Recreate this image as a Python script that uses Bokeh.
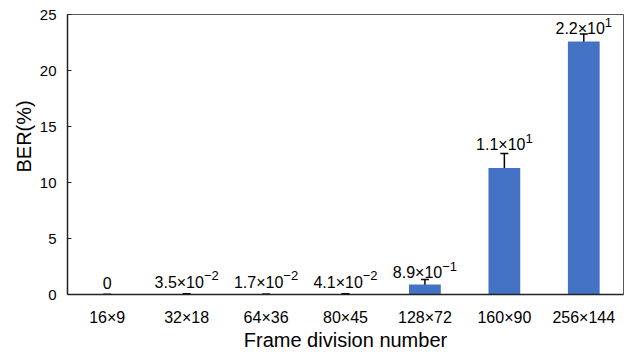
from bokeh.plotting import figure
from bokeh.models import ColumnDataSource, Whisker, Title, FactorRange, FixedTicker
from bokeh.core.properties import value
from bokeh.embed import file_html
from bokeh.resources import INLINE

categories = ["16×9", "32×18", "64×36", "80×45", "128×72", "160×90", "256×144"]
ber = [0.0, 0.035, 0.017, 0.041, 0.89, 11.3, 22.6]
err = [0.0, 0.03, 0.01, 0.03, 0.45, 1.3, 0.65]
label_base = ["0", "3.5×10", "1.7×10", "4.1×10", "8.9×10", "1.1×10", "2.2×10"]
label_exp = ["", "−2", "−2", "−2", "−1", "1", "1"]
y_ticks = [0, 5, 10, 15, 20, 25]

FONT = "Liberation Sans"
BASE_PX = 16
EXP_PX = 13
W = {"0": 556, "1": 556, "2": 556, "3": 556, "4": 556, "5": 556, "6": 556,
     "7": 556, "8": 556, "9": 556, ".": 278, "×": 584, "−": 584}

WIDTH, HEIGHT = 630, 353
B_LEFT, B_RIGHT, B_TOP, B_BOTTOM = 67, 7, 14, 58
Y_MAX = 25
PX_PER_UNIT = (HEIGHT - B_TOP - B_BOTTOM) / Y_MAX

def width(s, px):
    return sum(W.get(c, 556) for c in s) / 1000 * px

upper = [v + e for v, e in zip(ber, err)]
lower = [v - e for v, e in zip(ber, err)]
base_off = [(width(b, BASE_PX) - width(e, EXP_PX)) / 2 for b, e in zip(label_base, label_exp)]
lift = [-max(12, 1.4 * e * PX_PER_UNIT + 2.5) for e in err]
lift_exp = [l - 6.5 for l in lift]

src = ColumnDataSource(dict(cat=categories, ber=ber, upper=upper, lower=lower,
                            base=label_base, exp=label_exp, off=base_off,
                            lift=lift, lift_exp=lift_exp))

p = figure(x_range=FactorRange(*categories, range_padding=0), y_range=(0, Y_MAX),
           width=WIDTH, height=HEIGHT, output_backend="svg", toolbar_location=None,
           min_border_left=B_LEFT, min_border_right=B_RIGHT,
           min_border_top=B_TOP, min_border_bottom=B_BOTTOM)

p.vbar(x="cat", top="ber", width=0.4, source=src, color="#4472C4", line_color=None)
wh = Whisker(base="cat", upper="upper", lower="lower", source=src,
             line_color="black", line_width=1.5, dimension="height")
wh.upper_head.size = 8
wh.lower_head.size = 8
wh.upper_head.line_width = 1.5
wh.lower_head.line_width = 1.5
p.add_layout(wh)

p.text(x="cat", y="ber", text="base", source=src, text_align="right",
       text_baseline="alphabetic", x_offset="off", y_offset="lift",
       text_font=value(FONT), text_font_size=f"{BASE_PX}px", text_color="black")
p.text(x="cat", y="ber", text="exp", source=src, text_align="left",
       text_baseline="alphabetic", x_offset="off", y_offset="lift_exp",
       text_font=value(FONT), text_font_size=f"{EXP_PX}px", text_color="black")

p.xgrid.grid_line_color = None
p.ygrid.grid_line_color = None
p.outline_line_color = "#595959"
p.outline_line_width = 1
p.background_fill_color = "white"
p.border_fill_color = "white"

p.yaxis.ticker = FixedTicker(ticks=y_ticks)
p.yaxis.major_tick_in = 4
p.yaxis.major_tick_out = 0
p.yaxis.minor_tick_line_color = None
p.yaxis.major_label_text_font = FONT
p.yaxis.major_label_text_font_size = "15px"
p.yaxis.major_label_text_color = "black"
p.yaxis.major_label_standoff = 11
p.yaxis.axis_line_color = "#222222"
p.yaxis.axis_line_width = 1.5
p.yaxis.major_tick_line_color = "#222222"

p.xaxis.major_tick_in = 0
p.xaxis.major_tick_out = 0
p.xaxis.major_label_text_font = FONT
p.xaxis.major_label_text_font_size = "16px"
p.xaxis.major_label_text_color = "black"
p.xaxis.major_label_standoff = 14
p.xaxis.axis_line_color = "#222222"
p.xaxis.axis_line_width = 1.5
p.xaxis.axis_label = "Frame division number"
p.xaxis.axis_label_text_font = FONT
p.xaxis.axis_label_text_font_size = "20px"
p.xaxis.axis_label_text_font_style = "normal"
p.xaxis.axis_label_text_color = "black"
p.xaxis.axis_label_standoff = 0

p.add_layout(Title(text="BER(%)", align="left", offset=122, standoff=4,
                   text_font=FONT, text_font_size="20px", text_font_style="normal",
                   text_color="black"), "left")

open("out.html", "w").write(file_html(p, INLINE))
